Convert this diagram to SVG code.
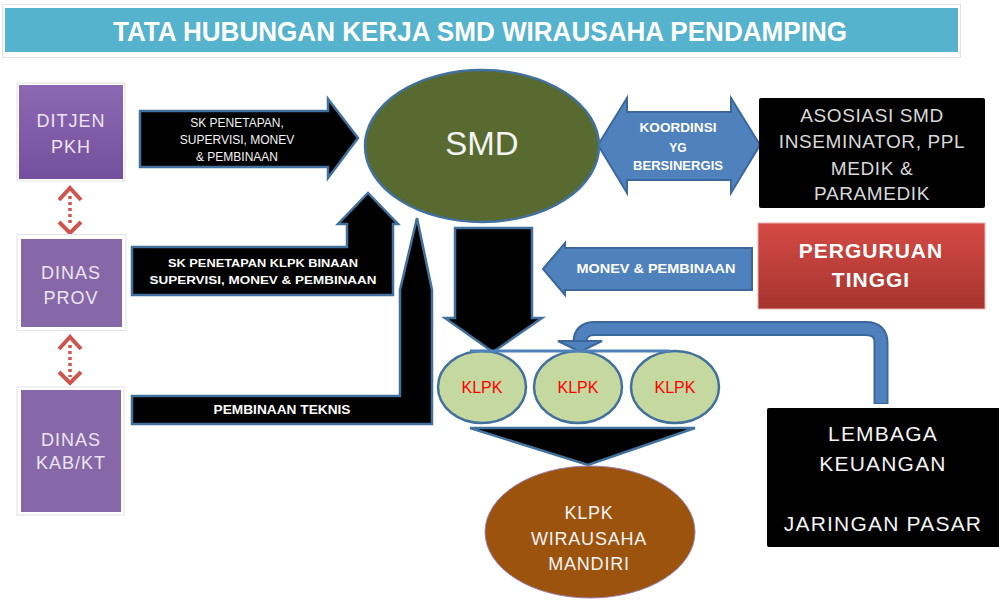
<svg xmlns="http://www.w3.org/2000/svg" width="999" height="605" viewBox="0 0 999 605">
<defs>
  <linearGradient id="gPurple" x1="0" y1="0" x2="0" y2="1">
    <stop offset="0" stop-color="#8d69b3"/>
    <stop offset="1" stop-color="#744f9d"/>
  </linearGradient>
  <linearGradient id="gRed" x1="0" y1="0" x2="0" y2="1">
    <stop offset="0" stop-color="#d64a45"/>
    <stop offset="1" stop-color="#a5342f"/>
  </linearGradient>
  <style>
    .lt{font-family:"Liberation Sans",Arial,sans-serif;fill:#ece4f0;text-anchor:middle}
    .wt{font-family:"Liberation Sans",Arial,sans-serif;fill:#f4f4f4;text-anchor:middle}
    .gt{font-family:"Liberation Sans",Arial,sans-serif;fill:#d9d9d9;text-anchor:middle}
    .bd{font-family:"Liberation Sans",Arial,sans-serif;font-weight:bold;fill:#ffffff;text-anchor:middle}
    .blk{fill:#000;stroke:#41719c;stroke-width:2.5;stroke-linejoin:miter}
    .blu{fill:#4f81bd;stroke:#3b679c;stroke-width:2}
    .pbox{fill:#8668a8}
    .frame{fill:#fff;stroke:#e2e2e2;stroke-width:1}
    .klpk{fill:#c5d8a0;stroke:#41719c;stroke-width:2.5}
    .kt{font-family:"Liberation Sans",Arial,sans-serif;font-size:16px;fill:#ff0000;text-anchor:middle}
  </style>
</defs>
<rect width="999" height="605" fill="#ffffff"/>

<g id="title">
  <rect x="2.5" y="4.5" width="958" height="53" class="frame"/>
  <rect x="5" y="8" width="953" height="44" fill="#55b3cd"/>
  <text x="480" y="41" class="bd" font-size="27" textLength="734" lengthAdjust="spacingAndGlyphs">TATA HUBUNGAN KERJA SMD WIRAUSAHA PENDAMPING</text>
</g>

<g id="connectors">
  <g id="dots-1">
    <line x1="70" y1="196" x2="70" y2="226" stroke="#cc5550" stroke-width="3.5" stroke-dasharray="3,3"/>
    <polyline points="59,200 70,188 81,200" fill="none" stroke="#cc5550" stroke-width="4"/>
    <polyline points="59,222 70,233 81,222" fill="none" stroke="#cc5550" stroke-width="4"/>
  </g>
  <g id="dots-2">
    <line x1="70" y1="345" x2="70" y2="377" stroke="#cc5550" stroke-width="3.5" stroke-dasharray="3,3"/>
    <polyline points="59,349 70,337 81,349" fill="none" stroke="#cc5550" stroke-width="4"/>
    <polyline points="59,372 70,383 81,372" fill="none" stroke="#cc5550" stroke-width="4"/>
  </g>

  <g id="arrow-sk-penetapan">
    <polygon class="blk" points="140,111 328,111 328,99 358,138 328,178 328,167 140,167"/>
    <text class="wt" font-size="12" x="237" y="127">SK PENETAPAN,</text>
    <text class="wt" font-size="12" x="237" y="144">SUPERVISI, MONEV</text>
    <text class="wt" font-size="12" x="237" y="161">&amp; PEMBINAAN</text>
  </g>

  <g id="arrow-sk-klpk">
    <polygon class="blk" points="132,247 347,247 347,224 338,224 368,193 398,224 393,224 393,295 132,295"/>
    <text class="bd" font-size="11.5" x="263" y="267" textLength="190" lengthAdjust="spacingAndGlyphs">SK PENETAPAN  KLPK BINAAN</text>
    <text class="bd" font-size="11.5" x="263" y="284" textLength="227" lengthAdjust="spacingAndGlyphs">SUPERVISI,  MONEV &amp; PEMBINAAN</text>
  </g>

  <g id="arrow-teknis">
    <polygon class="blk" points="132,396 400,396 400,290 417,218 432,290 432,424 132,424"/>
    <text class="bd" font-size="12" x="282" y="414" textLength="137" lengthAdjust="spacingAndGlyphs">PEMBINAAN TEKNIS</text>
  </g>

  <g id="arrow-down-smd">
    <polygon class="blk" points="455,228 532,228 532,318 542,318 493,352 445,318 455,318"/>
  </g>

  <g id="arrow-koordinasi">
    <polygon class="blu" points="598,145 627,98 627,112 731,112 731,98 760,145 731,193 731,180 627,180 627,193"/>
    <text class="bd" font-size="12" x="678" y="132" textLength="77" lengthAdjust="spacingAndGlyphs">KOORDINSI</text>
    <text class="bd" font-size="12" x="678" y="152">YG</text>
    <text class="bd" font-size="12" x="678" y="170" textLength="90" lengthAdjust="spacingAndGlyphs">BERSINERGIS</text>
  </g>

  <g id="arrow-monev">
    <polygon class="blu" points="543,269 565,243 565,248 752,248 752,290 565,290 565,295"/>
    <text class="bd" font-size="12" x="656" y="273" textLength="159" lengthAdjust="spacingAndGlyphs">MONEV &amp; PEMBINAAN</text>
  </g>

  <g id="arrow-lembaga">
    <path d="M881,404 V343 Q881,328.5 866,328.5 H595 Q580,328.5 580,342" fill="none" stroke="#3b679c" stroke-width="15"/>
    <path d="M881,403 V343 Q881,328.5 866,328.5 H595 Q580,328.5 580,343" fill="none" stroke="#4f81bd" stroke-width="11"/>
    <polygon class="blu" points="558,341 602,341 580,352"/>
  </g>

  <g id="arrow-mandiri">
    <polygon class="blk" points="470,428 695,428 588,465"/>
  </g>
</g>

<g id="ditjen">
  <rect x="17" y="83" width="108" height="98" class="frame"/>
  <rect x="19" y="85" width="104" height="94" fill="url(#gPurple)"/>
  <text class="lt" font-size="18" letter-spacing="1" x="71" y="127">DITJEN</text>
  <text class="lt" font-size="18" letter-spacing="1" x="71" y="153">PKH</text>
</g>

<g id="dinas-prov">
  <rect x="17" y="234.5" width="109" height="96" class="frame"/>
  <rect x="21" y="239" width="101" height="88" class="pbox"/>
  <text class="lt" font-size="18" letter-spacing="1" x="71" y="279">DINAS</text>
  <text class="lt" font-size="18" letter-spacing="1" x="71" y="304">PROV</text>
</g>

<g id="dinas-kab">
  <rect x="17" y="387" width="107" height="128" class="frame"/>
  <rect x="21" y="390" width="100" height="122" class="pbox"/>
  <text class="lt" font-size="18" letter-spacing="1" x="71" y="446">DINAS</text>
  <text class="lt" font-size="18" letter-spacing="1" x="71" y="469">KAB/KT</text>
</g>

<g id="smd">
  <ellipse cx="482" cy="146" rx="117" ry="76" fill="#586a30" stroke="#41719c" stroke-width="2.5"/>
  <text class="wt" font-size="33" x="482" y="155">SMD</text>
</g>

<g id="asosiasi">
  <rect x="759" y="98" width="226" height="110" rx="2" fill="#000"/>
  <text class="gt" font-size="19" letter-spacing="0.6" x="872" y="122">ASOSIASI SMD</text>
  <text class="gt" font-size="19" letter-spacing="0.6" x="872" y="148">INSEMINATOR, PPL</text>
  <text class="gt" font-size="19" letter-spacing="0.6" x="872" y="175">MEDIK &amp;</text>
  <text class="gt" font-size="19" letter-spacing="0.6" x="872" y="200">PARAMEDIK</text>
</g>

<g id="perguruan-tinggi">
  <rect x="758" y="223" width="227" height="86" fill="url(#gRed)" stroke="#e8b0ae" stroke-width="1"/>
  <text class="bd" font-size="21" x="871" y="258" letter-spacing="1">PERGURUAN</text>
  <text class="bd" font-size="21" x="871" y="287" letter-spacing="1">TINGGI</text>
</g>

<g id="klpk-1">
  <ellipse cx="482" cy="387" rx="44" ry="36" class="klpk"/>
  <text x="482" y="393" class="kt">KLPK</text>
</g>
<g id="klpk-2">
  <ellipse cx="578" cy="387" rx="44" ry="36" class="klpk"/>
  <text x="578" y="393" class="kt">KLPK</text>
</g>
<g id="klpk-3">
  <ellipse cx="675" cy="387" rx="44" ry="36" class="klpk"/>
  <text x="675" y="393" class="kt">KLPK</text>
</g>
<line x1="470" y1="351" x2="670" y2="351" stroke="#4f81bd" stroke-width="3"/>

<g id="klpk-mandiri">
  <ellipse cx="590" cy="532" rx="105" ry="66" fill="#9c530e" stroke="#9a7fb5" stroke-width="1"/>
  <text class="wt" font-size="18" letter-spacing="0.8" x="589" y="519">KLPK</text>
  <text class="wt" font-size="18" letter-spacing="0.8" x="589" y="545">WIRAUSAHA</text>
  <text class="wt" font-size="18" letter-spacing="0.8" x="589" y="570">MANDIRI</text>
</g>

<g id="lembaga">
  <rect x="767" y="408" width="240" height="139" rx="2" fill="#000"/>
  <text class="wt" font-size="21" letter-spacing="1.2" x="883" y="441">LEMBAGA</text>
  <text class="wt" font-size="21" letter-spacing="1.2" x="883" y="471">KEUANGAN</text>
  <text class="wt" font-size="21" letter-spacing="1.2" x="883" y="531">JARINGAN PASAR</text>
</g>
</svg>
